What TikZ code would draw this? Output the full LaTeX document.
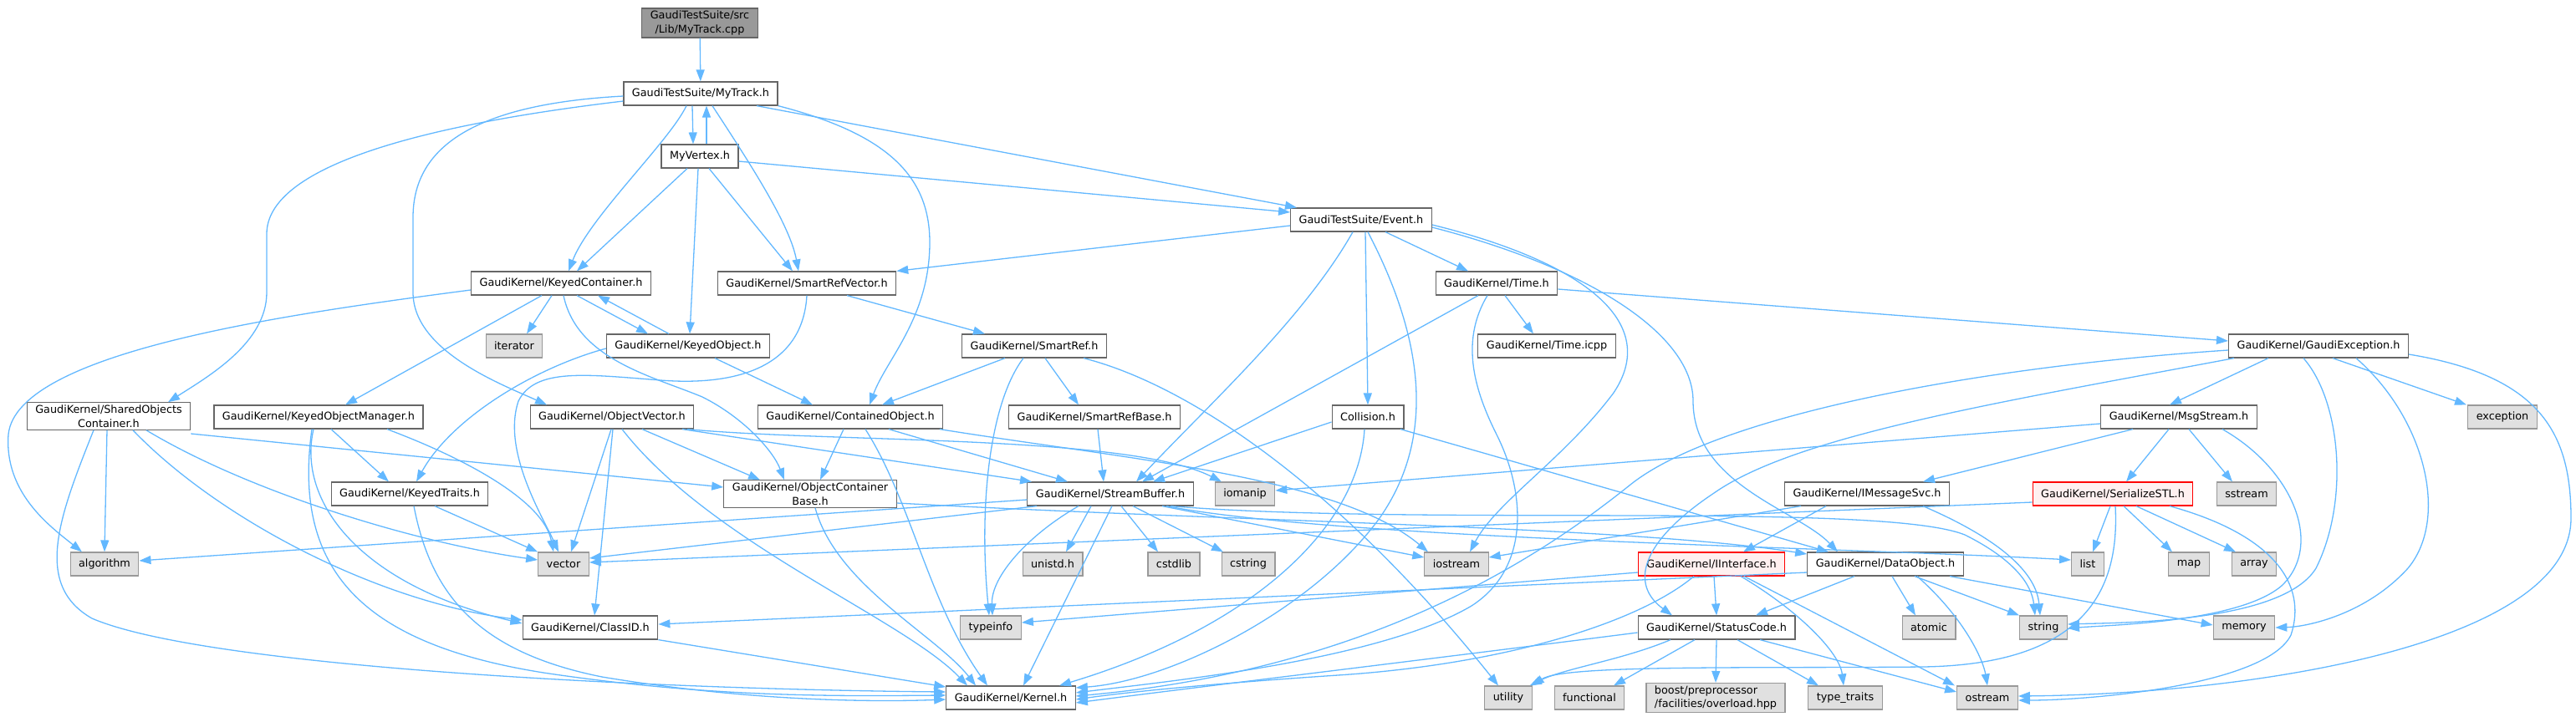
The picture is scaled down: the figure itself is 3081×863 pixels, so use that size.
\documentclass[tikz,border=0pt]{standalone}
\usepackage{fontspec}
\setmainfont{DejaVu Sans}
\usetikzlibrary{arrows.meta,calc}

\definecolor{edgeblue}{HTML}{63B8FF}
\definecolor{boxline}{HTML}{666666}
\definecolor{sysfill}{HTML}{E0E0E0}
\definecolor{sysline}{HTML}{999999}
\definecolor{rootfill}{HTML}{999999}
\definecolor{redline}{HTML}{FF0000}
\definecolor{redfill}{HTML}{FFF0F0}

\begin{document}
\begin{tikzpicture}[
    x=1pt, y=-1pt,
    file/.style={rectangle, draw=boxline, fill=white, line width=1.2pt, inner xsep=10pt, inner ysep=3pt, minimum height=28pt, align=center, font=\fontsize{12.8}{16.5}\selectfont},
    sys/.style={file, draw=sysline, fill=sysfill},
    trunc/.style={file, draw=redline, fill=redfill},
    rootbox/.style={file, fill=rootfill},
    dep/.style={draw=edgeblue, line width=1.3pt, -{Triangle[length=14pt,width=10pt]}}
]
    \useasboundingbox (0,0) rectangle (3081,863);

    \node[rootbox] (root) at (837,27.5) {GaudiTestSuite/src\\/Lib/MyTrack.cpp};
    \node[file] (mytrack) at (838,112) {GaudiTestSuite/MyTrack.h};
    \node[file] (myvertex) at (837,187) {MyVertex.h};
    \node[file] (event) at (1628,263) {GaudiTestSuite/Event.h};
    \node[file] (kc) at (671,339) {GaudiKernel/KeyedContainer.h};
    \node[file] (srv) at (965,339) {GaudiKernel/SmartRefVector.h};
    \node[file] (timeh) at (1790,339) {GaudiKernel/Time.h};
    \node[sys] (iterator) at (615,414) {iterator};
    \node[file] (kobj) at (823,414) {GaudiKernel/KeyedObject.h};
    \node[file] (smartref) at (1237,414) {GaudiKernel/SmartRef.h};
    \node[file] (timeicpp) at (1850,414) {GaudiKernel/Time.icpp};
    \node[file] (gexc) at (2773,414) {GaudiKernel/GaudiException.h};
    \node[file] (soc) at (130,498) {GaudiKernel/SharedObjects\\Container.h};
    \node[file] (kom) at (381,499) {GaudiKernel/KeyedObjectManager.h};
    \node[file] (ovec) at (732,499) {GaudiKernel/ObjectVector.h};
    \node[file] (cobj) at (1017,499) {GaudiKernel/ContainedObject.h};
    \node[file] (srbase) at (1309,499) {GaudiKernel/SmartRefBase.h};
    \node[file] (collision) at (1636,499) {Collision.h};
    \node[file] (msgstream) at (2606,499) {GaudiKernel/MsgStream.h};
    \node[sys] (exception) at (2993,499) {exception};
    \node[file] (ktraits) at (490,591) {GaudiKernel/KeyedTraits.h};
    \node[file] (ocb) at (969,591) {GaudiKernel/ObjectContainer\\Base.h};
    \node[file] (sbuf) at (1328,591) {GaudiKernel/StreamBuffer.h};
    \node[sys] (iomanip) at (1489,591) {iomanip};
    \node[file] (imsg) at (2233,591) {GaudiKernel/IMessageSvc.h};
    \node[trunc] (sstl) at (2527,591) {GaudiKernel/SerializeSTL.h};
    \node[sys] (sstream) at (2687,591) {sstream};
    \node[sys] (algorithm) at (125,675) {algorithm};
    \node[sys] (vector) at (674,675) {vector};
    \node[sys] (unistd) at (1259,675) {unistd.h};
    \node[sys] (cstdlib) at (1404,675) {cstdlib};
    \node[sys] (cstring) at (1493,675) {cstring};
    \node[sys] (iostream) at (1742,675) {iostream};
    \node[trunc] (iinterface) at (2047,675) {GaudiKernel/IInterface.h};
    \node[file] (dataobj) at (2255,675) {GaudiKernel/DataObject.h};
    \node[sys] (list) at (2497,675) {list};
    \node[sys] (map) at (2618,675) {map};
    \node[sys] (array) at (2696,675) {array};
    \node[file] (classid) at (706,751) {GaudiKernel/ClassID.h};
    \node[sys] (typeinfo) at (1185,751) {typeinfo};
    \node[file] (statuscode) at (2053,751) {GaudiKernel/StatusCode.h};
    \node[sys] (atomic) at (2307,751) {atomic};
    \node[sys] (string) at (2444,751) {string};
    \node[sys] (memory) at (2684,751) {memory};
    \node[file] (kernel) at (1209,835) {GaudiKernel/Kernel.h};
    \node[sys] (utility) at (1804,835) {utility};
    \node[sys] (functional) at (1901,835) {functional};
    \node[sys, align=left] (boost) at (2052,835) {boost/preprocessor\\/facilities/overload.hpp};
    \node[sys] (typetraits) at (2207,835) {type\_traits};
    \node[sys] (ostream) at (2377,835) {ostream};

    % MyTrack.cpp and MyTrack.h
    \draw[dep] (root) -- (mytrack);
    \draw[dep] ([xshift=-10pt]mytrack.south) -- ([xshift=-8pt]myvertex.north);
    \draw[dep] ([xshift=8pt]myvertex.north) -- ([xshift=7pt]mytrack.south);
    \draw[dep] ([xshift=-17pt]mytrack.south) .. controls (800,170) and (705,260) .. ([xshift=9pt]kc.north);
    \draw[dep] ([xshift=14pt]mytrack.south) .. controls (900,200) and (945,270) .. ([xshift=-10pt]srv.north);
    \draw[dep] ([xshift=67pt]mytrack.south) -- ([xshift=-77pt]event.north);
    \draw[dep] (mytrack.south east) .. controls (1060,160) and (1112,210) .. (1112,290) .. controls (1112,380) and (1060,430) .. ([xshift=23pt]cobj.north);
    \draw[dep] ([yshift=-3pt]mytrack.west) .. controls (560,125) and (494,180) .. (494,260) -- (494,350) .. controls (494,420) and (600,460) .. ([xshift=-78pt]ovec.north);
    \draw[dep] ([yshift=-9pt]mytrack.west) .. controls (500,150) and (319,200) .. (319,280) -- (319,350) .. controls (319,410) and (250,450) .. ([xshift=71pt]soc.north);

    % MyVertex.h
    \draw[dep] ([yshift=-6pt]myvertex.east) -- ([yshift=9pt]event.west);
    \draw[dep] ([xshift=-15pt]myvertex.south) -- ([xshift=19pt]kc.north);
    \draw[dep] ([xshift=-2pt]myvertex.south) -- ([xshift=2pt]kobj.north);
    \draw[dep] ([xshift=11pt]myvertex.south) -- ([xshift=-17pt]srv.north);

    % Event.h
    \draw[dep] ([yshift=-7pt]event.west) -- (srv.north east);
    \draw[dep] ([xshift=29pt]event.south) -- ([xshift=-34pt]timeh.north);
    \draw[dep] ([xshift=5pt]event.south) -- (collision.north);
    \draw[dep] ([xshift=-10pt]event.south) .. controls (1560,380) and (1450,480) .. ([xshift=31pt]sbuf.north);
    \draw[dep] ([xshift=8pt]event.south) .. controls (1700,400) and (1720,520) .. (1650,620) .. controls (1570,730) and (1400,815) .. ([yshift=12pt]kernel.east);
    \draw[dep] ([yshift=-6pt]event.east) .. controls (1880,310) and (1990,380) .. (1930,470) .. controls (1870,550) and (1790,600) .. ([xshift=16pt]iostream.north);
    \draw[dep] ([yshift=-9pt]event.east) .. controls (1900,320) and (2025,400) .. (2025,480) .. controls (2025,580) and (2150,610) .. ([xshift=-57pt]dataobj.north);

    % Time.h
    \draw[dep] ([xshift=10pt]timeh.south) -- ([xshift=-16pt]timeicpp.north);
    \draw[dep] ([yshift=-7pt]timeh.east) -- ([yshift=6pt]gexc.west);
    \draw[dep] ([xshift=-22pt]timeh.south) -- ([xshift=38pt]sbuf.north);
    \draw[dep] ([xshift=-11pt]timeh.south) .. controls (1745,410) and (1765,470) .. (1790,520) .. controls (1825,590) and (1830,680) .. (1760,725) .. controls (1650,790) and (1400,815) .. ([yshift=6pt]kernel.east);

    % KeyedContainer.h and KeyedObject.h
    \draw[dep] ([yshift=-8pt]kc.west) .. controls (350,375) and (20,420) .. (10,520) .. controls (5,590) and (60,630) .. ([xshift=-27pt]algorithm.north);
    \draw[dep] ([xshift=-11pt]kc.south) -- ([xshift=15pt]iterator.north);
    \draw[dep] ([xshift=19pt]kc.south) -- ([xshift=-48pt]kobj.north);
    \draw[dep] ([xshift=-23pt]kobj.north) -- ([xshift=44pt]kc.south);
    \draw[dep] ([xshift=-23pt]kc.south) -- ([xshift=32pt]kom.north);
    \draw[dep] ([xshift=3pt]kc.south) .. controls (690,430) and (780,450) .. (840,475) .. controls (890,500) and (925,540) .. ([xshift=-31pt]ocb.north);
    \draw[dep] ([yshift=-3pt]kobj.west) .. controls (640,440) and (540,500) .. ([xshift=8pt]ktraits.north);
    \draw[dep] ([xshift=32pt]kobj.south) -- ([xshift=-45pt]cobj.north);

    % SmartRefVector.h, SmartRef.h, SmartRefBase.h
    \draw[dep] ([xshift=48pt]srv.south) -- ([xshift=-59pt]smartref.north);
    \draw[dep] (srv.south) .. controls (960,440) and (880,462) .. (790,455) .. controls (700,448) and (640,440) .. (620,480) .. controls (600,540) and (650,620) .. ([xshift=-6pt]vector.north);
    \draw[dep] ([xshift=-35pt]smartref.south) -- ([xshift=38pt]cobj.north);
    \draw[dep] ([xshift=13pt]smartref.south) -- ([xshift=-19pt]srbase.north);
    \draw[dep] ([xshift=-13pt]smartref.south) .. controls (1185,480) and (1170,600) .. ([xshift=-2pt]typeinfo.north);
    \draw[dep] ([xshift=59pt]smartref.south) .. controls (1420,460) and (1600,580) .. ([xshift=-12pt]utility.north);
    \draw[dep] ([xshift=4pt]srbase.south) -- ([xshift=-8pt]sbuf.north);

    % SharedObjectsContainer.h
    \draw[dep] ([xshift=-18pt]soc.south) .. controls (70,620) and (40,700) .. (110,740) .. controls (250,800) and (800,825) .. ([yshift=7pt]kernel.west);
    \draw[dep] ([xshift=-2pt]soc.south) -- (algorithm.north);
    \draw[dep] ([xshift=29pt]soc.south) .. controls (260,620) and (450,720) .. ([yshift=9pt]classid.west);
    \draw[dep] ([xshift=45pt]soc.south) .. controls (300,590) and (500,650) .. ([yshift=5pt]vector.west);
    \draw[dep] ([yshift=-21pt]soc.east) -- ([yshift=8pt]ocb.west);

    % KeyedObjectManager.h and KeyedTraits.h
    \draw[dep] ([xshift=15pt]kom.south) -- ([xshift=-25pt]ktraits.north);
    \draw[dep] ([xshift=82pt]kom.south) .. controls (560,550) and (650,600) .. ([xshift=-12pt]vector.north);
    \draw[dep] ([xshift=-6pt]kom.south) .. controls (355,600) and (430,700) .. ([yshift=5pt]classid.west);
    \draw[dep] ([xshift=-8pt]kom.south) .. controls (350,680) and (430,770) .. (650,805) .. controls (850,835) and (1000,833) .. ([yshift=3pt]kernel.west);
    \draw[dep] ([xshift=30pt]ktraits.south) -- (vector.north west);
    \draw[dep] ([xshift=5pt]ktraits.south) .. controls (515,710) and (570,780) .. (720,810) .. controls (900,840) and (1050,840) .. ([yshift=-2pt]kernel.west);

    % ObjectVector.h
    \draw[dep] ([xshift=-1pt]ovec.south) -- ([xshift=9pt]vector.north);
    \draw[dep] ([xshift=1pt]ovec.south) -- ([xshift=5pt]classid.north);
    \draw[dep] ([xshift=12pt]ovec.south) .. controls (850,650) and (1080,740) .. ([xshift=-52pt]kernel.north);
    \draw[dep] ([xshift=36pt]ovec.south) -- ([xshift=-60pt]ocb.north);
    \draw[dep] ([xshift=84pt]ovec.south) -- ([xshift=-94pt]sbuf.north);
    \draw[dep] ([xshift=90pt]ovec.south) .. controls (1000,530) and (1350,520) .. ([xshift=-28pt]iomanip.north);

    % ContainedObject.h and ObjectContainerBase.h
    \draw[dep] ([xshift=-8pt]cobj.south) -- ([xshift=12pt]ocb.north);
    \draw[dep] ([xshift=18pt]cobj.south) .. controls (1090,600) and (1110,720) .. ([xshift=-28pt]kernel.north);
    \draw[dep] ([xshift=46pt]cobj.south) -- ([xshift=-51pt]sbuf.north);
    \draw[dep] ([xshift=107pt]cobj.south) .. controls (1350,550) and (1600,570) .. ([xshift=-34pt]iostream.north);
    \draw[dep] ([xshift=6pt]ocb.south) .. controls (1000,700) and (1120,760) .. ([xshift=-42pt]kernel.north);
    \draw[dep] ([yshift=-11pt]ocb.east) .. controls (1500,625) and (1950,630) .. ([yshift=12pt]dataobj.west);

    % StreamBuffer.h
    \draw[dep] ([yshift=-7pt]sbuf.west) -- ([yshift=4pt]algorithm.east);
    \draw[dep] ([xshift=-88pt]sbuf.south) -- ([yshift=7pt]vector.east);
    \draw[dep] ([xshift=-38pt]sbuf.south) .. controls (1230,640) and (1185,690) .. ([xshift=2pt]typeinfo.north);
    \draw[dep] ([xshift=-23pt]sbuf.south) -- ([xshift=16pt]unistd.north);
    \draw[dep] ([xshift=2pt]sbuf.south) -- ([xshift=15pt]kernel.north);
    \draw[dep] ([xshift=13pt]sbuf.south) -- ([xshift=-19pt]cstdlib.north);
    \draw[dep] ([xshift=27pt]sbuf.south) -- ([xshift=-30pt]cstring.north);
    \draw[dep] ([xshift=62pt]sbuf.south) -- ([yshift=8pt]iostream.west);
    \draw[dep] ([xshift=67pt]sbuf.south) .. controls (1600,645) and (2200,655) .. ([yshift=5pt]list.west);
    \draw[dep] ([xshift=72pt]sbuf.south) .. controls (1700,630) and (2250,600) .. (2350,640) .. controls (2410,670) and (2430,700) .. ([xshift=-10pt]string.north);

    % Collision.h
    \draw[dep] ([yshift=-6pt]collision.west) -- ([xshift=51pt]sbuf.north);
    \draw[dep] ([xshift=-4pt]collision.south) .. controls (1625,630) and (1500,750) .. ([xshift=58pt]kernel.north);
    \draw[dep] ([xshift=39pt]collision.south) -- ([xshift=-68pt]dataobj.north);

    % GaudiException.h
    \draw[dep] ([xshift=-60pt]gexc.south) -- ([xshift=-11pt]msgstream.north);
    \draw[dep] ([xshift=17pt]gexc.south) -- ([xshift=-43pt]exception.north);
    \draw[dep] ([xshift=-18pt]gexc.south) .. controls (2800,480) and (2810,600) .. (2770,680) .. controls (2730,745) and (2540,745) .. ([yshift=4pt]string.east);
    \draw[dep] ([xshift=45pt]gexc.south) .. controls (2900,500) and (2930,620) .. (2880,680) .. controls (2830,735) and (2760,750) .. (memory.east);
    \draw[dep] ([yshift=-10pt]gexc.east) .. controls (3040,450) and (3075,520) .. (3075,620) .. controls (3075,770) and (2700,830) .. ([yshift=2pt]ostream.east);
    \draw[dep] ([xshift=-101pt]gexc.south) .. controls (2400,480) and (2150,520) .. (2050,590) .. controls (1960,650) and (1950,700) .. ([xshift=-53pt]statuscode.north);
    \draw[dep] ([yshift=-5pt]gexc.west) .. controls (2350,440) and (2050,500) .. (1950,580) .. controls (1850,660) and (1650,800) .. ([yshift=2pt]kernel.east);

    % MsgStream.h and IMessageSvc.h
    \draw[dep] ([yshift=-8pt]msgstream.west) -- ([yshift=4pt]iomanip.east);
    \draw[dep] ([xshift=-55pt]msgstream.south) -- ([xshift=67pt]imsg.north);
    \draw[dep] ([xshift=-12pt]msgstream.south) -- ([xshift=16pt]sstl.north);
    \draw[dep] ([xshift=12pt]msgstream.south) -- ([xshift=-17pt]sstream.north);
    \draw[dep] ([xshift=52pt]msgstream.south) .. controls (2740,560) and (2780,650) .. (2730,700) .. controls (2680,745) and (2520,748) .. ([yshift=-1pt]string.east);
    \draw[dep] ([xshift=-79pt]imsg.south) -- ([yshift=8pt]iostream.east);
    \draw[dep] ([xshift=-49pt]imsg.south) -- ([xshift=38pt]iinterface.north);
    \draw[dep] ([xshift=67pt]imsg.south) .. controls (2380,640) and (2435,680) .. ([xshift=-4pt]string.north);

    % SerializeSTL.h
    \draw[dep] ([xshift=-3pt]sstl.south) -- ([xshift=6pt]list.north);
    \draw[dep] ([xshift=13pt]sstl.south) -- ([xshift=-20pt]map.north);
    \draw[dep] ([xshift=28pt]sstl.south) -- ([xshift=-22pt]array.north);
    \draw[dep] ([xshift=68pt]sstl.south) .. controls (2720,640) and (2760,700) .. (2740,760) .. controls (2710,820) and (2500,838) .. ([yshift=-3pt]ostream.east);
    \draw[dep] ([xshift=3pt]sstl.south) .. controls (2535,700) and (2500,795) .. (2300,798) .. controls (2100,800) and (1870,795) .. (utility.north east);
    \draw[dep] ([yshift=-10pt]sstl.west) -- ([yshift=2pt]vector.east);

    % IInterface.h
    \draw[dep] ([yshift=-10pt]iinterface.west) -- ([yshift=6pt]typeinfo.east);
    \draw[dep] ([xshift=3pt]iinterface.south) -- (statuscode.north);
    \draw[dep] ([xshift=-21pt]iinterface.south) .. controls (1960,745) and (1800,795) .. (1600,808) .. controls (1450,818) and (1350,828) .. ([yshift=-2pt]kernel.east);
    \draw[dep] ([xshift=35pt]iinterface.south) .. controls (2150,730) and (2200,780) .. ([xshift=-2pt]typetraits.north);
    \draw[dep] ([xshift=39pt]iinterface.south) -- ([xshift=-39pt]ostream.north);

    % DataObject.h
    \draw[dep] ([yshift=-10pt]dataobj.west) -- ([yshift=4pt]classid.east);
    \draw[dep] ([xshift=-37pt]dataobj.south) -- ([xshift=47pt]statuscode.north);
    \draw[dep] ([xshift=8pt]dataobj.south) -- ([xshift=-16pt]atomic.north);
    \draw[dep] ([xshift=35pt]dataobj.south) -- (string.north west);
    \draw[dep] ([xshift=38pt]dataobj.south) .. controls (2350,740) and (2372,790) .. (ostream.north);
    \draw[dep] ([xshift=77pt]dataobj.south) -- ([yshift=3pt]memory.west);

    % StatusCode.h and ClassID.h
    \draw[dep] ([yshift=-6pt]statuscode.west) .. controls (1700,790) and (1450,820) .. ([yshift=-6pt]kernel.east);
    \draw[dep] ([xshift=-55pt]statuscode.south) .. controls (1940,790) and (1870,800) .. ([xshift=-3pt]utility.north east);
    \draw[dep] ([xshift=-26pt]statuscode.south) -- ([xshift=29pt]functional.north);
    \draw[dep] (statuscode.south) -- (boost.north);
    \draw[dep] ([xshift=25pt]statuscode.south) -- ([xshift=-32pt]typetraits.north);
    \draw[dep] ([xshift=52pt]statuscode.south) -- ([yshift=7pt]ostream.west);
    \draw[dep] (classid.south east) -- ([yshift=13pt]kernel.west);
\end{tikzpicture}
\end{document}
